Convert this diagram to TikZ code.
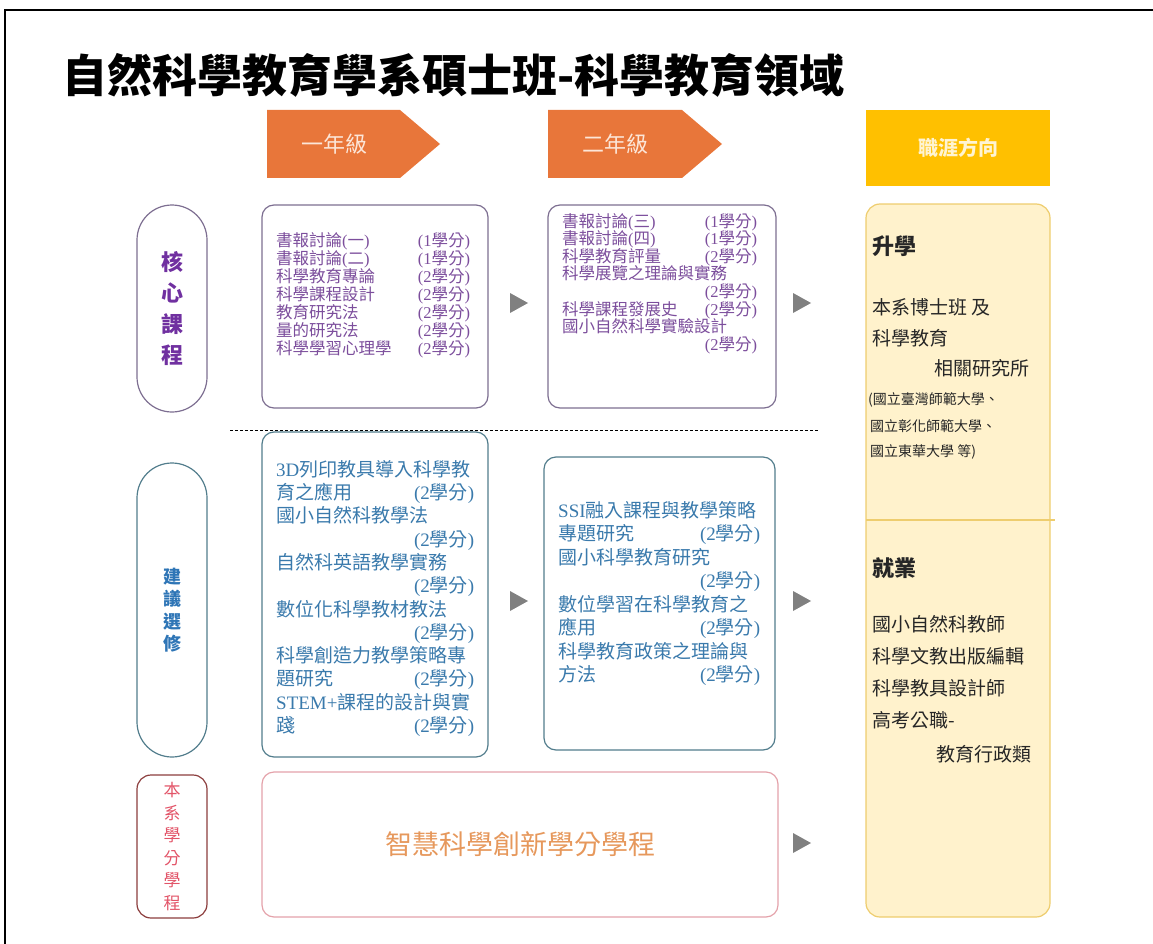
\documentclass[tikz,border=0pt]{standalone}
\usepackage{fontspec}
\setmainfont{Noto Sans CJK TC}
\newfontfamily\tms{Liberation Serif}
\newcommand{\pa}[1]{{\tms(}#1{\tms)}}
\newcommand{\cred}[1]{\pa{{\tms #1}學分}}
\newcommand{\fs}[2]{\fontsize{#1}{#2}\selectfont\lineskiplimit=-20pt}
\definecolor{yearorange}{RGB}{232,118,58}
\definecolor{yeartext}{RGB}{252,230,216}
\definecolor{careergold}{RGB}{255,192,0}
\definecolor{careerhead}{RGB}{255,244,210}
\definecolor{careerfill}{RGB}{255,242,204}
\definecolor{careerline}{RGB}{238,205,110}
\definecolor{careerink}{RGB}{38,38,38}
\definecolor{corepurple}{RGB}{112,48,160}
\definecolor{coreink}{RGB}{124,78,156}
\definecolor{coreline}{RGB}{125,110,145}
\definecolor{electblue}{RGB}{46,117,182}
\definecolor{electink}{RGB}{58,122,172}
\definecolor{electline}{RGB}{82,125,140}
\definecolor{progred}{RGB}{226,84,104}
\definecolor{progline}{RGB}{140,62,62}
\definecolor{progpink}{RGB}{228,162,170}
\definecolor{progorange}{RGB}{230,152,92}
\definecolor{trigray}{RGB}{128,128,128}
\begin{document}
\begin{tikzpicture}[x=1pt,y=1pt,
    yeartxt/.style={text=yeartext, font=\fs{22}{22}},
    tagbox/.style={line width=1.2pt, align=center, rounded corners=#1},
    coursebox/.style={line width=1.2pt, rounded corners=12pt},
    coursetxt/.style={anchor=north west, align=left},
    careertxt/.style={text=careerink, font=\fs{19}{19}},
    careersmall/.style={text=careerink, font=\fs{14}{14}},
    careerhd/.style={text=careerink, anchor=west, font=\fs{22}{22}\bfseries}]
    \tikzstyle{every node}+=[inner sep=0pt]
    \useasboundingbox (0,0) rectangle (1153,-944);
    \draw [black, line width=2pt] (5,-944) -- (5,-10) -- (1153,-10);
    \node [anchor=west, font=\fs{45}{45}\bfseries] (title) at (62,-75) {自然科學教育學系碩士班-科學教育領域};
    % year headers
    \fill [yearorange] (267,-110) -- (400,-110) -- (440,-144) -- (400,-178) -- (267,-178) -- cycle;
    \node [yeartxt] (year1) at (334,-144) {一年級};
    \fill [yearorange] (548,-110) -- (682,-110) -- (722,-144) -- (682,-178) -- (548,-178) -- cycle;
    \node [yeartxt] (year2) at (615,-144) {二年級};
    \node [fill=careergold, minimum width=184pt, minimum height=76pt, text=careerhead, font=\fs{20}{20}\bfseries] (career) at (958,-148) {職涯方向};
    % row tags
    \node [tagbox=35pt, draw=coreline, minimum width=70pt, minimum height=207pt, text=corepurple, font=\fs{22}{31}\bfseries] (core) at (172,-308.5) {核\\心\\課\\程};
    \node [tagbox=35pt, draw=electline, minimum width=70pt, minimum height=294pt, text=electblue, font=\fs{18}{22.5}\bfseries] (elect) at (172,-610) {建\\議\\選\\修};
    \node [tagbox=14pt, draw=progline, minimum width=70pt, minimum height=143pt, text=progred, font=\fs{17}{22.6}] (prog) at (172,-846.5) {本\\系\\學\\分\\學\\程};
    % course boxes
    \node [coursebox, draw=coreline, minimum width=226pt, minimum height=203pt] (core1) at (375,-306.5) {};
    \node [coursebox, draw=coreline, minimum width=228pt, minimum height=203pt] (core2) at (662,-306.5) {};
    \node [coursebox, draw=electline, minimum width=226pt, minimum height=325pt] (elect1) at (375,-594.5) {};
    \node [coursebox, draw=electline, minimum width=231pt, minimum height=293pt] (elect2) at (659.5,-603.5) {};
    \node [coursebox, draw=progpink, minimum width=516pt, minimum height=145pt, text=progorange, font=\fs{27}{27}] (program) at (520,-844.5) {智慧科學創新學分學程};
    \node [coursetxt, text width=194pt, text=coreink, font=\fs{16.5}{18}] (core1txt) at (276,-232) {書報討論\pa{一}\hfill\cred{1}\\
        書報討論\pa{二}\hfill\cred{1}\\
        科學教育專論\hfill\cred{2}\\
        科學課程設計\hfill\cred{2}\\
        教育研究法\hfill\cred{2}\\
        量的研究法\hfill\cred{2}\\
        科學學習心理學\hfill\cred{2}};
    \node [coursetxt, text width=195pt, text=coreink, font=\fs{16.5}{17.6}] (core2txt) at (562,-213) {書報討論\pa{三}\hfill\cred{1}\\
        書報討論\pa{四}\hfill\cred{1}\\
        科學教育評量\hfill\cred{2}\\
        科學展覽之理論與實務\\
        \leavevmode\hfill\cred{2}\\
        科學課程發展史\hfill\cred{2}\\
        國小自然科學實驗設計\\
        \leavevmode\hfill\cred{2}};
    \node [coursetxt, text width=198pt, text=electink, font=\fs{19}{23.3}] (elect1txt) at (276,-460) {{\tms 3D}列印教具導入科學教\\
        育之應用\hfill\cred{2}\\
        國小自然科教學法\\
        \leavevmode\hfill\cred{2}\\
        自然科英語教學實務\\
        \leavevmode\hfill\cred{2}\\
        數位化科學教材教法\\
        \leavevmode\hfill\cred{2}\\
        科學創造力教學策略專\\
        題研究\hfill\cred{2}\\
        {\tms STEM+}課程的設計與實\\
        踐\hfill\cred{2}};
    \node [coursetxt, text width=202pt, text=electink, font=\fs{19}{23.5}] (elect2txt) at (558,-501) {{\tms SSI}融入課程與教學策略\\
        專題研究\hfill\cred{2}\\
        國小科學教育研究\\
        \leavevmode\hfill\cred{2}\\
        數位學習在科學教育之\\
        應用\hfill\cred{2}\\
        科學教育政策之理論與\\
        方法\hfill\cred{2}};
    \draw [black, line width=0.8pt, dash pattern=on 3pt off 2pt] (230,-430) -- (818,-430);
    % gray arrow heads
    \fill [trigray] (510,-293) -- (528,-303) -- (510,-313);
    \fill [trigray] (793,-293) -- (811,-303) -- (793,-313);
    \fill [trigray] (510,-591) -- (528,-601) -- (510,-611);
    \fill [trigray] (793,-591) -- (811,-601) -- (793,-611);
    \fill [trigray] (793,-833) -- (811,-843) -- (793,-853);
    % career column
    \node [coursebox, rounded corners=14pt, fill=careerfill, draw=careerline, minimum width=184pt, minimum height=713pt] (careerbox) at (958,-560.5) {};
    \draw [careerline, line width=1.2pt] (866,-520) -- (1055,-520);
    \node [careerhd] (further) at (872,-246) {升學};
    \node [careertxt, anchor=west] (phd) at (872,-307) {本系博士班\ 及};
    \node [careertxt, anchor=west] (scied) at (872,-338) {科學教育};
    \node [careertxt, anchor=east] (inst) at (1030,-368) {相關研究所};
    \node [careersmall, anchor=west] (univ1) at (868,-400) {(國立臺灣師範大學、};
    \node [careersmall, anchor=west] (univ2) at (870,-426) {國立彰化師範大學、};
    \node [careersmall, anchor=west] (univ3) at (870,-452) {國立東華大學\ 等)};
    \node [careerhd] (job) at (872,-568) {就業};
    \node [careertxt, anchor=west] (job1) at (872,-624) {國小自然科教師};
    \node [careertxt, anchor=west] (job2) at (872,-656) {科學文教出版編輯};
    \node [careertxt, anchor=west] (job3) at (872,-688) {科學教具設計師};
    \node [careertxt, anchor=west] (job4) at (872,-720) {高考公職-};
    \node [careertxt, anchor=east] (job5) at (1032,-754) {教育行政類};
\end{tikzpicture}
\end{document}
